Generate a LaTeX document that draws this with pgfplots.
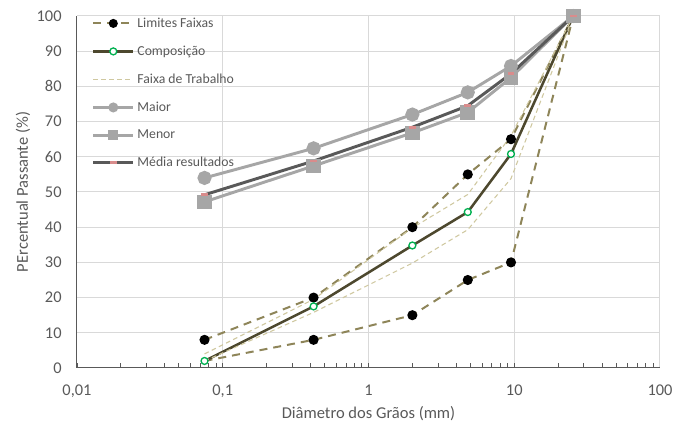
\documentclass[border=0pt]{standalone}
\usepackage{fontspec}
\setmainfont{Carlito}
\usepackage{pgfplots}
\pgfplotsset{compat=1.18}
\definecolor{txt}{HTML}{595959}
\definecolor{gridc}{HTML}{D9D9D9}
\definecolor{axc}{HTML}{595959}
\definecolor{limc}{HTML}{8E8559}
\definecolor{compc}{HTML}{4D482E}
\definecolor{greenc}{HTML}{00B050}
\definecolor{faixc}{HTML}{CFC8A0}
\definecolor{grayc}{HTML}{A6A6A6}
\definecolor{medc}{HTML}{595959}
\definecolor{pinkc}{HTML}{D98C8C}
\begin{document}
\begin{tikzpicture}
\begin{axis}[
  scale only axis, width=437.25pt, height=264pt,
  xmode=log, xmin=0.01, xmax=100, ymin=0, ymax=100,
  xtick={0.01,0.1,1,10,100}, xticklabels={{0,01},{0,1},1,10,100},
  ytick={0,10,...,100},
  /pgf/number format/assume math mode=true,
  grid=major, major grid style={color=gridc, line width=0.75pt},
  axis lines*=left, axis line style={color=axc, line width=0.75pt},
  tick align=inside, major tick length=0pt, minor tick length=3.5pt,
  minor tick style={color=axc, line width=0.6pt},
  ticklabel style={font=\fontsize{12.3}{14}\selectfont, text=txt},
  yticklabel style={xshift=-8pt},
  xticklabel style={yshift=-9pt},
  xlabel={Diâmetro dos Grãos (mm)}, ylabel={PErcentual Passante (\%)},
  label style={font=\fontsize{12.4}{14}\selectfont, text=txt},
  xlabel style={yshift=0pt},
  ylabel style={yshift=-2pt},
  legend cell align=left,
  legend style={draw=none, fill=none, at={(0.025,1.0035)}, anchor=north west,
    font=\fontsize{10.3}{12}\selectfont, text=txt, row sep=8.4pt, inner sep=0pt},
  legend image code/.code={\draw[mark repeat=2,mark phase=2,#1, mark size=2.6pt] plot coordinates {(0pt,0pt)(15pt,0pt)(30pt,0pt)};},
]
\addplot[limc, line width=1.5pt, dash pattern=on 6pt off 4.5pt, mark=*, mark size=3pt, mark options={solid, fill=black, draw=black}]
  coordinates {(0.075,8) (0.42,20) (2.0,40) (4.8,55) (9.5,65) (25.4,100)};
\addlegendentry{Limites Faixas}
\addplot[forget plot, limc, line width=1.5pt, dash pattern=on 6pt off 4.5pt, mark=*, mark size=3pt, mark indices={2,3,4,5,6}, mark options={solid, fill=black, draw=black}]
  coordinates {(0.075,2) (0.42,8) (2.0,15) (4.8,25) (9.5,30) (25.4,100)};
\addplot[compc, line width=1.9pt, mark=*, mark size=2.6pt, mark options={fill=white, draw=greenc, line width=1pt}]
  coordinates {(0.075,2) (0.42,17.5) (2.0,34.8) (4.8,44.3) (9.5,60.8) (25.4,100)};
\addlegendentry{Composição}
\addplot[faixc, line width=0.8pt, dash pattern=on 3.5pt off 2.5pt]
  coordinates {(0.075,4) (0.42,19.5) (2.0,39.8) (4.8,49.3) (9.5,66) (25.4,100)};
\addlegendentry{Faixa de Trabalho}
\addplot[forget plot, faixc, line width=0.8pt, dash pattern=on 3.5pt off 2.5pt]
  coordinates {(0.075,2) (0.42,15.8) (2.0,29.8) (4.8,39.3) (9.5,53.8) (25.4,100)};
\addplot[grayc, line width=2.2pt, mark=*, mark size=4.2pt, mark options={fill=grayc, draw=grayc}]
  coordinates {(0.075,54) (0.42,62.4) (2.0,72) (4.8,78.3) (9.5,85.8) (25.4,100)};
\addlegendentry{Maior}
\addplot[grayc, line width=2.2pt, mark=square*, mark size=4.4pt, mark options={fill=grayc, draw=grayc}]
  coordinates {(0.075,47.2) (0.42,57.4) (2.0,66.8) (4.8,72.6) (9.5,82.5) (25.4,100)};
\addlegendentry{Menor}
\addplot[medc, line width=2.2pt, mark=-, mark size=2.6pt, mark options={draw=pinkc, line width=2.2pt}]
  coordinates {(0.075,49.2) (0.42,58.8) (2.0,68.4) (4.8,74.5) (9.5,83.6) (25.4,100)};
\addlegendentry{Média resultados}
\coordinate (SW) at (rel axis cs:0,0);
\coordinate (NE) at (rel axis cs:1,1);
\end{axis}
\pgfresetboundingbox
\path[use as bounding box] ([shift={(-57.75pt,-41.25pt)}]SW) rectangle ([shift={(9.75pt,12pt)}]NE);
\end{tikzpicture}
\end{document}
